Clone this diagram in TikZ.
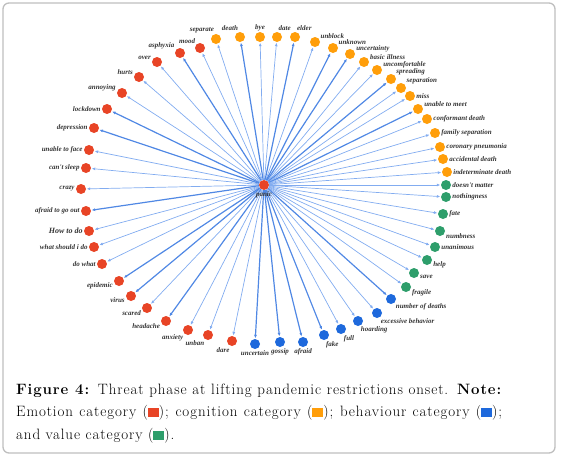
\documentclass[tikz,border=0pt]{standalone}
\usepackage{fontspec}
\usetikzlibrary{arrows.meta}
\newfontfamily\lblfont{Liberation Serif}
\newfontfamily\capfont{Latin Modern Roman}[LetterSpace=6]
\definecolor{emoc}{RGB}{232,68,38}
\definecolor{cogc}{RGB}{255,158,10}
\definecolor{behc}{RGB}{30,105,220}
\definecolor{valc}{RGB}{46,158,107}
\definecolor{lnkc}{RGB}{130,172,240}
\definecolor{lnkbc}{RGB}{80,136,228}
\newcommand\swatch[1]{\textcolor{#1}{\rule[-0.5pt]{11pt}{9pt}}}
\pgfdeclarelayer{bg}
\pgfsetlayers{bg,main}
\tikzset{
  dot/.style={circle,inner sep=0pt,minimum size=10pt},
  emo/.style={dot,fill=emoc},
  cog/.style={dot,fill=cogc},
  beh/.style={dot,fill=behc},
  val/.style={dot,fill=valc},
  lbl/.style={font=\lblfont\bfseries\itshape\fontsize{7}{8}\selectfont,inner sep=1pt,text=black!80},
  lnk/.style={draw=lnkc,line width=0.7pt,-{Latex[length=3.5pt,width=3pt]},shorten >=0.5pt},
  lnkb/.style={lnk,draw=lnkbc,line width=1.2pt},
  captext/.style={font=\capfont\fontsize{15}{17}\selectfont,inner sep=0pt,anchor=base west}
}
\begin{document}
\begin{tikzpicture}[x=1pt,y=-1pt]
  \useasboundingbox (0,0) rectangle (562,461);
  \draw[black!25,line width=1.3pt,rounded corners=6pt] (3,3) rectangle (555,453);
  \node[emo,label={[lbl]270:panic}] (panic) at (264,185) {};
  % emotion
  \foreach \n/\x/\y/\a/\s/\t in {mood/200/48/135/lnk/mood,asph/180/53/150/lnkb/asphyxia,
      over/157/62/165/lnk/over,hurts/139/77/165/lnk/hurts,annoy/122/93/170/lnk/annoying,
      lockd/107/109/180/lnkb/lockdown,depr/94/128/180/lnkb/depression,
      unface/89/150/180/lnk/unable to face,nosleep/86/168/180/lnk/can't sleep,
      crazy/81/189/180/lnk/crazy,afraidout/86/211/180/lnkb/afraid to go out,
      howto/89/231/180/lnk/{\fontsize{8}{9}\selectfont How to do},whatdo/94/247/180/lnk/what should i do,
      dowhat/102/264/180/lnk/do what,epid/119/281/190/lnkb/epidemic,virus/131/296/190/lnkb/virus,
      scared/147/308/200/lnk/scared,headache/166/321/200/lnkb/headache,
      anxiety/188/330/225/lnk/anxiety,unban/208/335/240/lnk/unban,dare/232/341/255/lnk/dare} {
    \node[emo,label={[lbl]\a:\t}] (\n) at (\x,\y) {};
    \begin{pgfonlayer}{bg}\draw[\s] (panic) -- (\n);\end{pgfonlayer}
  }
  % cognition
  \foreach \n/\x/\y/\a/\s/\t in {separate/216/39/100/lnk/separate,death/240/37/100/lnkb/death,
      bye/260/37/90/lnk/bye,date/277/37/85/lnk/date,elder/295/37/80/lnkb/elder,
      unblock/315/42/30/lnk/unblock,unknown/333/48/30/lnkb/unknown,uncty/350/54/10/lnkb/uncertainty,
      illness/364/62/15/lnk/basic illness,uncomf/377/70/10/lnk/uncomfortable,
      spread/391/79/35/lnkb/spreading,separ/401/88/30/lnk/separation,miss/410/96/0/lnk/miss,
      unmeet/418/109/10/lnkb/unable to meet,confdeath/427/119/0/lnk/conformant death,
      famsep/435/133/0/lnk/family separation,pneum/440/147/0/lnk/coronary pneumonia,
      accdeath/443/159/0/lnk/accidental death,indetdeath/447/172/0/lnk/indeterminate death} {
    \node[cog,label={[lbl]\a:\t}] (\n) at (\x,\y) {};
    \begin{pgfonlayer}{bg}\draw[\s] (panic) -- (\n);\end{pgfonlayer}
  }
  % value
  \foreach \n/\x/\y/\a/\s/\t in {nomatter/446/185/0/lnk/doesn't matter,nothing/446/197/0/lnk/nothingness,
      fate/443/214/0/lnk/fate,numb/440/231/-15/lnk/numbness,unanim/435/247/0/lnk/unanimous,
      help/427/260/-10/lnk/help,save/414/273/-15/lnk/save,fragile/406/287/-20/lnk/fragile} {
    \node[val,label={[lbl]\a:\t}] (\n) at (\x,\y) {};
    \begin{pgfonlayer}{bg}\draw[\s] (panic) -- (\n);\end{pgfonlayer}
  }
  % behaviour
  \foreach \n/\x/\y/\a/\s/\t in {ndeaths/391/299/-45/lnkb/number of deaths,
      excess/377/313/-60/lnk/excessive behavior,hoard/358/321/-70/lnk/hoarding,
      full/341/329/-70/lnk/full,fake/324/335/-80/lnkb/fake,afraid/303/342/270/lnkb/afraid,
      gossip/280/342/270/lnkb/gossip,uncertain/255/344/270/lnkb/uncertain} {
    \node[beh,label={[lbl]\a:\t}] (\n) at (\x,\y) {};
    \begin{pgfonlayer}{bg}\draw[\s] (panic) -- (\n);\end{pgfonlayer}
  }
  \node[captext] (cap1) at (16,394) {\hbox to 486pt{\textbf{Figure 4:} Threat phase at lifting pandemic restrictions onset. \textbf{Note:}}};
  \node[captext] (cap2) at (16,416.5) {\hbox to 486pt{Emotion category (\swatch{emoc}); cognition category (\swatch{cogc}); behaviour category (\swatch{behc});}};
  \node[captext] (cap3) at (16,439) {and value category (\swatch{valc}).};
\end{tikzpicture}
\end{document}
